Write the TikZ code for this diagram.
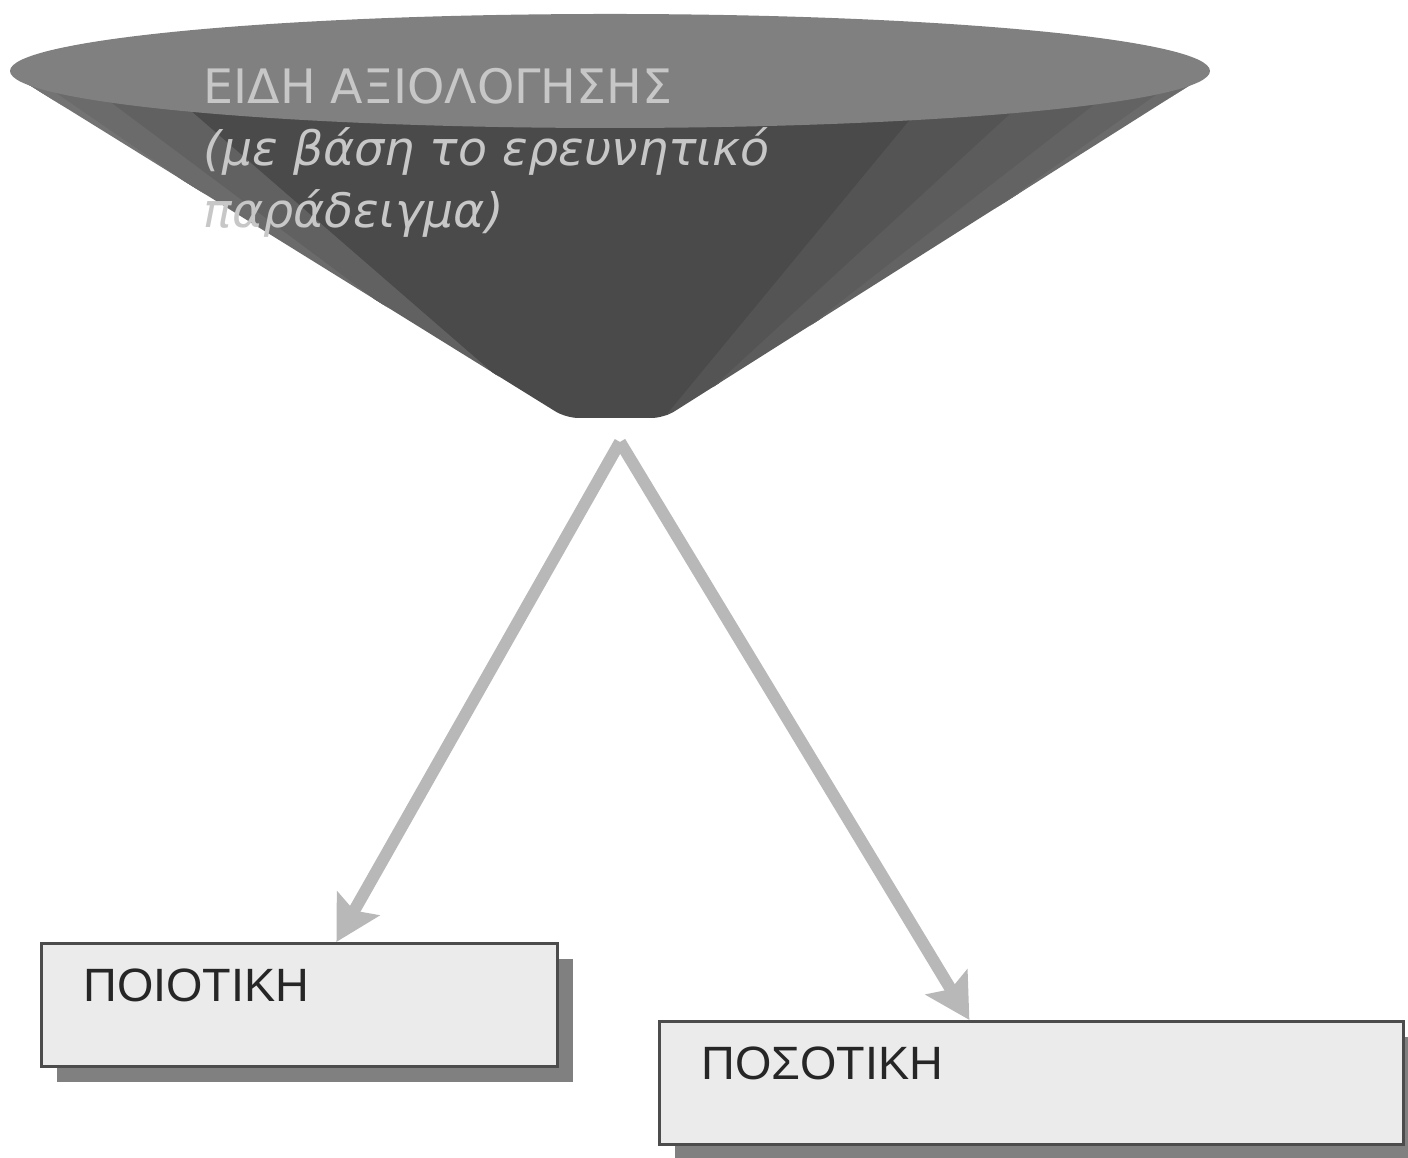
\documentclass[tikz,border=0pt]{standalone}
\usepackage{fontspec}
\setmainfont{Liberation Sans}
\newfontfamily\titlefont{DejaVu Sans}
\usetikzlibrary{arrows.meta,shadows,positioning}

\begin{document}
\begin{tikzpicture}[
  kindbox/.style={draw=black!70, line width=0.8pt, fill=black!8, text=black!85,
    font=\fontsize{13.3}{16}\selectfont, align=left, anchor=north west,
    inner xsep=0.42cm, inner ysep=0.23cm, text height=0.35cm, text depth=0.42cm,
    drop shadow={shadow xshift=0.16cm, shadow yshift=-0.16cm, fill=black!50, opacity=1}},
  flowarrow/.style={-{Stealth[length=0.44cm, width=0.48cm, inset=0.08cm]}, line width=0.12cm, black!28}
]
\useasboundingbox (0,0) rectangle (14.08,11.58);

% cone
\begin{scope}
\clip[rounded corners=3.5pt] (0.13,10.83) -- (5.66,7.40) -- (6.64,7.40) -- (12.06,10.83) -- cycle;
\foreach \a/\b/\k in {180/192/52, 192/203/55, 203/214/58, 214/226/62, 226/300/71, 300/312/67, 312/324/64, 324/336/61, 336/348/58, 348/360/55}
  \filldraw[black!\k, line width=0.3pt] (6.15,6.8) -- ({6.10+6.0*cos(\a)},{10.87+0.57*sin(\a)}) -- ({6.10+6.0*cos(\b)},{10.87+0.57*sin(\b)}) -- cycle;
\end{scope}
\fill[black!50] (6.10,10.87) ellipse [x radius=6.0, y radius=0.57];

\node[anchor=north west, text=black!22, align=left, inner sep=0,
  font=\titlefont\fontsize{13.5}{17.6}\selectfont] (title) at (2.03,10.90)
  {ΕΙΔΗ ΑΞΙΟΛΟΓΗΣΗΣ\\ \textit{(με βάση το ερευνητικό}\\ \textit{παράδειγμα)}};

% kinds
\node[kindbox, text width=4.32cm] (qual) at (0.40,2.16) {ΠΟΙΟΤΙΚΗ};
\node[kindbox, text width=6.60cm] (quant) at (6.58,1.38) {ΠΟΣΟΤΙΚΗ};

\coordinate (apex) at (6.20,7.16);
\draw[flowarrow] (apex) -- ([xshift=0.37cm]qual.north);
\draw[flowarrow] (apex) -- ([xshift=-0.62cm]quant.north);
\end{tikzpicture}
\end{document}
